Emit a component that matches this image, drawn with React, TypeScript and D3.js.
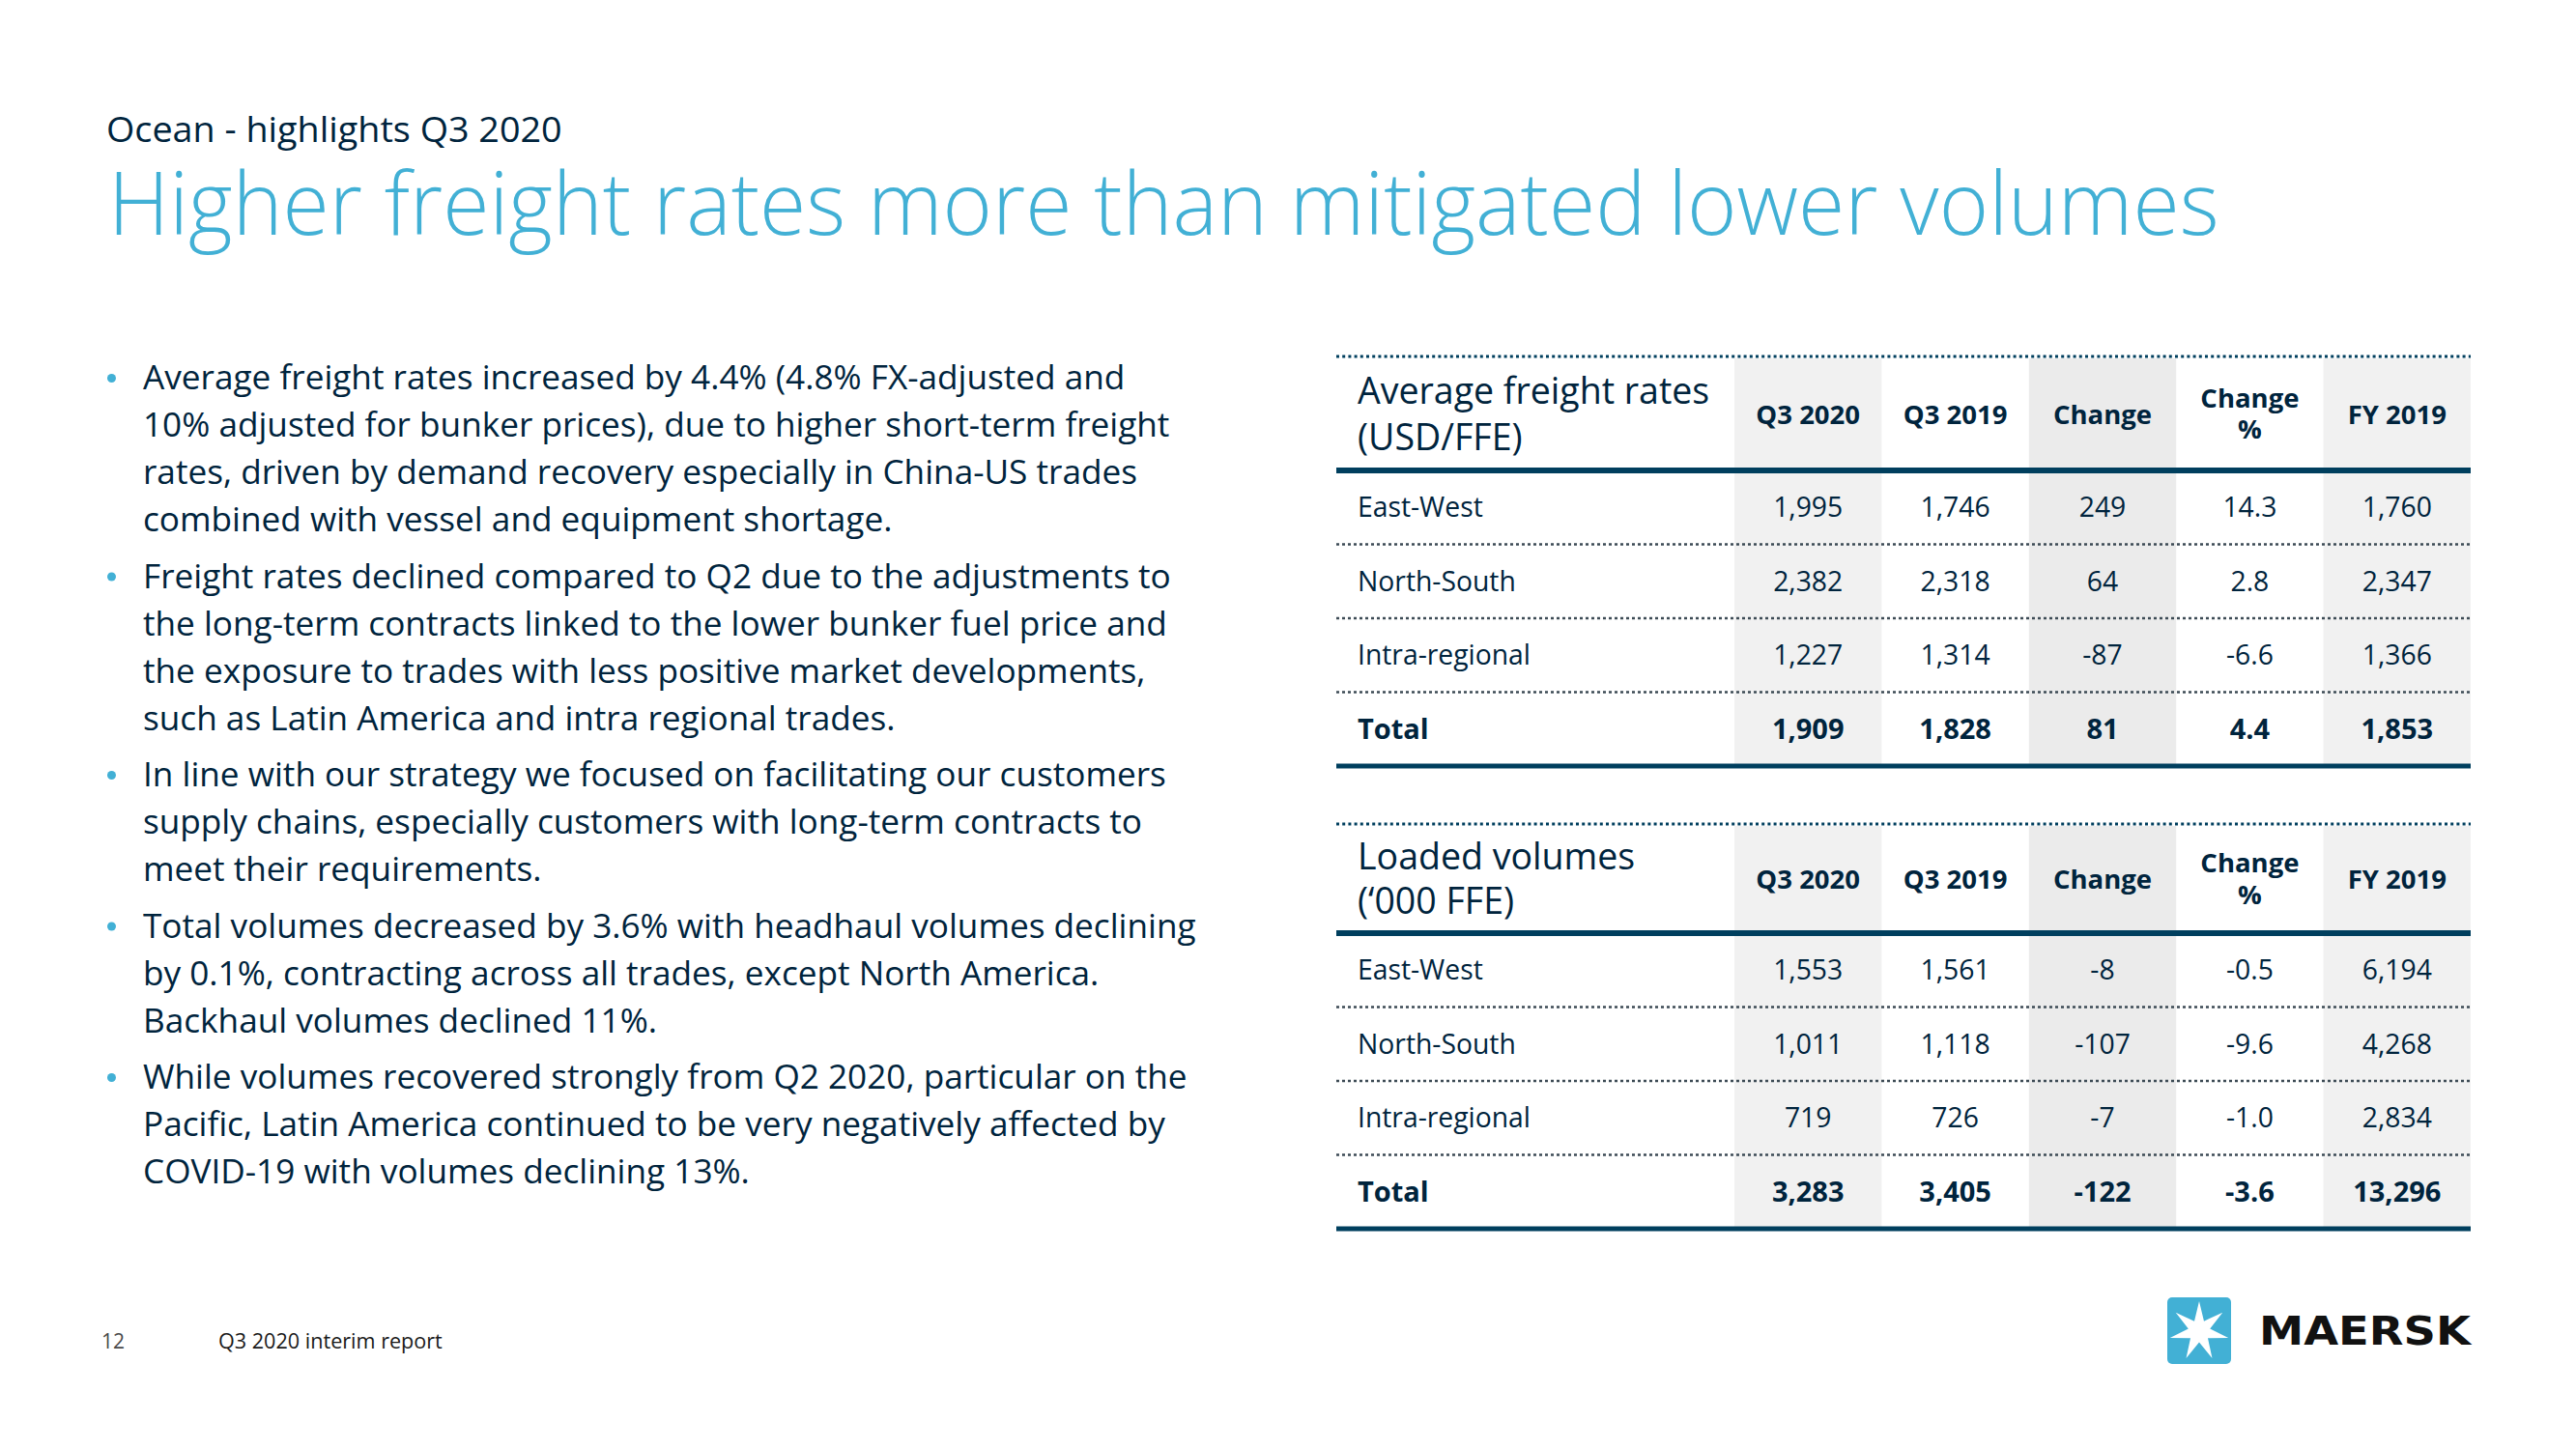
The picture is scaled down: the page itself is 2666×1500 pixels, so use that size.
import React from "react";
import * as d3 from "d3";

const W = 2666;
const H = 1500;

const subtitle = "Ocean - highlights Q3 2020";
const title = "Higher freight rates more than mitigated lower volumes";

const bullets: string[][] = [
  [
    "Average freight rates increased by 4.4% (4.8% FX-adjusted and",
    "10% adjusted for bunker prices), due to higher short-term freight",
    "rates, driven by demand recovery especially in China-US trades",
    "combined with vessel and equipment shortage.",
  ],
  [
    "Freight rates declined compared to Q2 due to the adjustments to",
    "the long-term contracts linked to the lower bunker fuel price and",
    "the exposure to trades with less positive market developments,",
    "such as Latin America and intra regional trades.",
  ],
  [
    "In line with our strategy we focused on facilitating our customers",
    "supply chains, especially customers with long-term contracts to",
    "meet their requirements.",
  ],
  [
    "Total volumes decreased by 3.6% with headhaul volumes declining",
    "by 0.1%, contracting across all trades, except North America.",
    "Backhaul volumes declined 11%.",
  ],
  [
    "While volumes recovered strongly from Q2 2020, particular on the",
    "Pacific, Latin America continued to be very negatively affected by",
    "COVID-19 with volumes declining 13%.",
  ],
];

const columns = ["Q3 2020", "Q3 2019", "Change", "Change %", "FY 2019"];
const rowLabels = ["East-West", "North-South", "Intra-regional", "Total"];

const rateTitle = ["Average freight rates", "(USD/FFE)"];
const rateQ32020 = [1995, 2382, 1227, 1909];
const rateQ32019 = [1746, 2318, 1314, 1828];
const rateChange = [249, 64, -87, 81];
const rateChangePct = [14.3, 2.8, -6.6, 4.4];
const rateFY2019 = [1760, 2347, 1366, 1853];

const volTitle = ["Loaded volumes", "(\u2018000 FFE)"];
const volQ32020 = [1553, 1011, 719, 3283];
const volQ32019 = [1561, 1118, 726, 3405];
const volChange = [-8, -107, -7, -122];
const volChangePct = [-0.5, -9.6, -1.0, -3.6];
const volFY2019 = [6194, 4268, 2834, 13296];

const footerPage = "12";
const footerText = "Q3 2020 interim report";
const logoText = "MAERSK";

const locale = d3.formatLocale({
  decimal: ".",
  thousands: ",",
  grouping: [3],
  currency: ["$", ""],
  minus: "-",
});
const fmtInt = locale.format(",");
const fmtPct = locale.format(".1f");

const NAVY = "#00243D";
const BLUE = "#42B0D5";
const LINE = "#003F5E";
const FONT = "'Open Sans', 'Noto Sans', sans-serif";

function T(props: {
  x: number;
  y: number;
  sx?: number;
  anchor?: string;
  size: number;
  weight?: number;
  fill?: string;
  family?: string;
  children: React.ReactNode;
}) {
  const { x, y, sx = 1, anchor = "start", size, weight = 400, fill = NAVY, family = FONT, children } = props;
  return (
    <text
      transform={`translate(${x},${y}) scale(${sx},1)`}
      textAnchor={anchor}
      fontSize={size}
      fontWeight={weight}
      fill={fill}
      fontFamily={family}
    >
      {children}
    </text>
  );
}

type TableProps = {
  top: number;
  headerBottom: number;
  titleLines: string[];
  titleBaselines: number[];
  headerBaseline: number;
  changePctBaselines: number[];
  cols: string[][];
};

function DataTable({ top, headerBottom, titleLines, titleBaselines, headerBaseline, changePctBaselines, cols }: TableProps) {
  const left = 1383;
  const right = 2557;
  const x = d3.scaleBand<string>().domain(columns).range([1795, right]);
  const y = d3.scaleBand<string>().domain(rowLabels).range([headerBottom, headerBottom + 306]);
  const bottom = headerBottom + 306;
  const shade: Record<string, string> = {
    "Q3 2020": "#F1F1F1",
    "Q3 2019": "none",
    Change: "#EBEBEB",
    "Change %": "none",
    "FY 2019": "#F1F1F1",
  };
  return (
    <g>
      {columns.map((c) =>
        shade[c] !== "none" ? (
          <rect key={c} x={x(c)!} y={top + 2} width={x.bandwidth()} height={bottom - top - 2} fill={shade[c]} />
        ) : null
      )}
      <line x1={left} x2={right} y1={top} y2={top} stroke={LINE} strokeWidth={3} strokeDasharray="3 3.2" />
      {titleLines.map((t, i) => (
        <T key={t} x={1405} y={titleBaselines[i]} size={37.5}>
          {t}
        </T>
      ))}
      {columns.map((c) => {
        const cx = x(c)! + x.bandwidth() / 2;
        if (c === "Change %") {
          return (
            <g key={c}>
              <T x={cx} y={changePctBaselines[0]} size={27.5} weight={700} anchor="middle">
                Change
              </T>
              <T x={cx} y={changePctBaselines[1]} size={27.5} weight={700} anchor="middle">
                %
              </T>
            </g>
          );
        }
        return (
          <T key={c} x={cx} y={headerBaseline} size={27.5} weight={700} anchor="middle">
            {c}
          </T>
        );
      })}
      <line x1={left} x2={right} y1={headerBottom} y2={headerBottom} stroke={LINE} strokeWidth={6} />
      {rowLabels.map((r, ri) => {
        const cy = y(r)! + y.bandwidth() / 2;
        const bold = r === "Total";
        const fs = bold ? 29 : 28.3;
        return (
          <g key={r}>
            <T x={1405} y={cy + 10} size={fs} weight={bold ? 700 : 400}>
              {r}
            </T>
            {columns.map((c, ci) => (
              <T
                key={c}
                x={x(c)! + x.bandwidth() / 2}
                y={cy + 10}
                size={fs}
                weight={bold ? 700 : 400}
                anchor="middle"
              >
                {cols[ci][ri]}
              </T>
            ))}
            {ri < rowLabels.length - 1 ? (
              <line
                x1={left}
                x2={right}
                y1={y(r)! + y.bandwidth()}
                y2={y(r)! + y.bandwidth()}
                stroke="#3d4b55"
                strokeWidth={2.5}
                strokeDasharray="3 3"
              />
            ) : null}
          </g>
        );
      })}
      <line x1={left} x2={right} y1={bottom} y2={bottom} stroke={LINE} strokeWidth={5} />
    </g>
  );
}

function starPoints(cx: number, cy: number, R: number, r: number, n: number) {
  const pts: string[] = [];
  for (let i = 0; i < n * 2; i++) {
    const a = -Math.PI / 2 + (i * Math.PI) / n;
    const rad = i % 2 === 0 ? R : r;
    pts.push(`${cx + rad * Math.cos(a)},${cy + rad * Math.sin(a)}`);
  }
  return pts.join(" ");
}

export default function App() {
  const lineH = 49;
  const paraGap = 9.5;
  let yCursor = 403;
  const bulletEls: React.ReactNode[] = [];
  bullets.forEach((para, pi) => {
    bulletEls.push(<circle key={`d${pi}`} cx={115.5} cy={yCursor - 11.5} r={4.5} fill={BLUE} />);
    para.forEach((line, li) => {
      bulletEls.push(
        <T key={`l${pi}-${li}`} x={148} y={yCursor} size={35} sx={1.005} weight={400}>
          {line}
        </T>
      );
      yCursor += lineH;
    });
    yCursor += paraGap;
  });

  const rateCols = [
    rateQ32020.map(fmtInt),
    rateQ32019.map(fmtInt),
    rateChange.map(fmtInt),
    rateChangePct.map(fmtPct),
    rateFY2019.map(fmtInt),
  ];
  const volCols = [
    volQ32020.map(fmtInt),
    volQ32019.map(fmtInt),
    volChange.map(fmtInt),
    volChangePct.map(fmtPct),
    volFY2019.map(fmtInt),
  ];

  return (
    <svg width={W} height={H} viewBox={`0 0 ${W} ${H}`} style={{ display: "block", position: "absolute", left: 0, top: 0 }}>
      <rect x={0} y={0} width={W} height={H} fill="#ffffff" />
      <T x={110} y={147} size={37} weight={400} sx={1.02}>
        {subtitle}
      </T>
      <T x={112} y={243} size={90} weight={300} fill={BLUE} sx={0.976}>
        {title}
      </T>
      {bulletEls}
      <DataTable
        top={369}
        headerBottom={487}
        titleLines={rateTitle}
        titleBaselines={[418, 466]}
        headerBaseline={439}
        changePctBaselines={[422, 454]}
        cols={rateCols}
      />
      <DataTable
        top={853}
        headerBottom={966}
        titleLines={volTitle}
        titleBaselines={[900, 946]}
        headerBaseline={920}
        changePctBaselines={[903, 936]}
        cols={volCols}
      />
      <T x={105} y={1396} size={21} fill="#4a4a4a">
        {footerPage}
      </T>
      <T x={226} y={1396} size={21.6} fill="#1a1a1a">
        {footerText}
      </T>
      <rect x={2243} y={1343} width={66} height={69} rx={5} fill={BLUE} />
      <polygon points={starPoints(2276, 1378, 31, 11.5, 7)} fill="#ffffff" />
      <text
        x={2338}
        y={1392}
        fontSize={41}
        fontWeight={700}
        fontFamily="'DejaVu Sans', sans-serif"
        textLength={219}
        lengthAdjust="spacingAndGlyphs"
        fill="#111111"
      >
        {logoText}
      </text>
    </svg>
  );
}
